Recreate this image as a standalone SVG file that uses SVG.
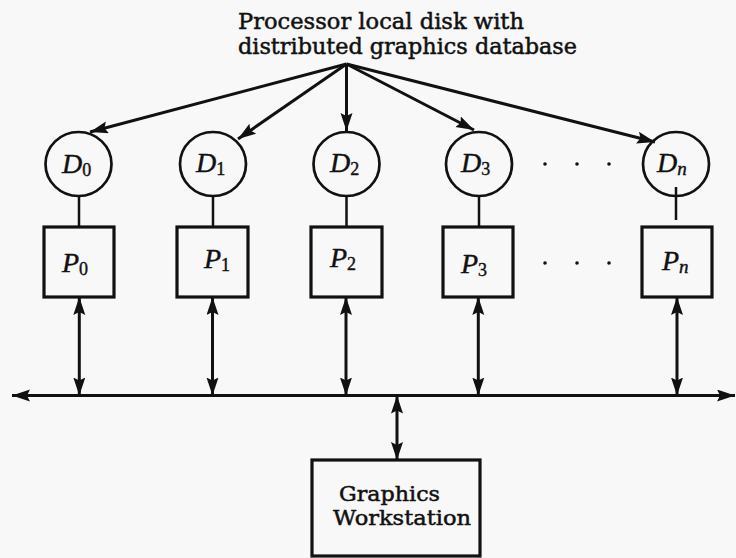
<svg xmlns="http://www.w3.org/2000/svg" width="736" height="558" viewBox="0 0 736 558">
  <style>
    .bg { fill: #f8f8f8; }
    .disk { fill: none; stroke: #111; stroke-width: 2.7; }
    .proc { fill: none; stroke: #111; stroke-width: 3.2; }
    .link { stroke: #111; stroke-width: 2.5; fill: none; }
    .arrow { stroke: #111; stroke-width: 3; fill: none; marker-end: url(#head); }
    .both { stroke: #111; stroke-width: 3; fill: none; marker-start: url(#head); marker-end: url(#head); }
    .title { font-family: "DejaVu Serif", "Liberation Serif", serif; font-size: 22px; fill: #111; stroke: #111; stroke-width: 0.5; }
    .ws { font-family: "DejaVu Serif", "Liberation Serif", serif; font-size: 21px; fill: #111; stroke: #111; stroke-width: 0.5; }
    .lbl { font-family: "Liberation Serif", "DejaVu Serif", serif; font-size: 28px; font-style: italic; fill: #111; stroke: #111; stroke-width: 0.4; }
    .sub { font-size: 18px; font-style: normal; }
    .subn { font-size: 19px; font-style: italic; }
    .dot { fill: #111; }
  </style>
  <defs>
    <marker id="head" markerUnits="userSpaceOnUse" markerWidth="20" markerHeight="14" refX="18" refY="6" orient="auto-start-reverse">
      <path d="M0,0 L18,6 L0,12 L3,6 z" fill="#111"/>
    </marker>
  </defs>

  <rect class="bg" x="0" y="0" width="736" height="558"/>

  <!-- heading above the disks -->
  <g id="caption">
    <text class="title" x="238" y="29" textLength="286" lengthAdjust="spacingAndGlyphs">Processor local disk with</text>
    <text class="title" x="238" y="54" textLength="339" lengthAdjust="spacingAndGlyphs">distributed graphics database</text>
  </g>

  <!-- connectors -->
  <g id="connectors">
    <!-- fan-out from the heading to each disk -->
    <line class="arrow" x1="346.5" y1="64" x2="90" y2="132"/>
    <line class="arrow" x1="346.5" y1="64" x2="238" y2="139"/>
    <line class="arrow" x1="346.5" y1="64" x2="346.5" y2="131"/>
    <line class="arrow" x1="346.5" y1="64" x2="474" y2="130"/>
    <line class="arrow" x1="346.5" y1="64" x2="655" y2="142"/>
    <!-- disk to processor -->
    <line class="link" x1="79" y1="196" x2="79" y2="227"/>
    <line class="link" x1="213" y1="196" x2="213" y2="227"/>
    <line class="link" x1="346.5" y1="196" x2="346.5" y2="227"/>
    <line class="link" x1="479" y1="196" x2="479" y2="227"/>
    <line class="link" x1="676" y1="187" x2="676" y2="220"/>
    <!-- processor to bus -->
    <line class="both" x1="79.3" y1="297" x2="79.3" y2="395.5"/>
    <line class="both" x1="212.5" y1="297" x2="212.5" y2="395.5"/>
    <line class="both" x1="346" y1="297" x2="346" y2="395.5"/>
    <line class="both" x1="478.3" y1="297" x2="478.3" y2="395.5"/>
    <line class="both" x1="677" y1="297" x2="677" y2="395.5"/>
    <!-- bus -->
    <line class="both" x1="12" y1="395.5" x2="735" y2="395.5"/>
    <!-- bus to workstation -->
    <line class="both" x1="397" y1="395.5" x2="397" y2="460"/>
  </g>

  <!-- disks -->
  <g id="D0">
    <ellipse class="disk" cx="78.5" cy="164" rx="33" ry="32"/>
    <text class="lbl" x="62" y="173">D<tspan class="sub" dy="3">0</tspan></text>
  </g>
  <g id="D1">
    <ellipse class="disk" cx="213" cy="164" rx="33" ry="32"/>
    <text class="lbl" x="196" y="172">D<tspan class="sub" dy="3">1</tspan></text>
  </g>
  <g id="D2">
    <ellipse class="disk" cx="346.5" cy="164" rx="33" ry="32"/>
    <text class="lbl" x="330" y="172">D<tspan class="sub" dy="3">2</tspan></text>
  </g>
  <g id="D3">
    <ellipse class="disk" cx="479" cy="164" rx="33" ry="32"/>
    <text class="lbl" x="461" y="172">D<tspan class="sub" dy="3">3</tspan></text>
  </g>
  <g id="Dn">
    <ellipse class="disk" cx="676" cy="164" rx="33" ry="32"/>
    <text class="lbl" x="657" y="172">D<tspan class="subn" dy="3">n</tspan></text>
  </g>

  <!-- processors -->
  <g id="P0">
    <rect class="proc" x="44" y="227" width="70" height="70"/>
    <text class="lbl" x="62" y="272">P<tspan class="sub" dy="3">0</tspan></text>
  </g>
  <g id="P1">
    <rect class="proc" x="177" y="227" width="71" height="70"/>
    <text class="lbl" x="204" y="268">P<tspan class="sub" dy="3">1</tspan></text>
  </g>
  <g id="P2">
    <rect class="proc" x="311" y="227" width="71" height="70"/>
    <text class="lbl" x="330" y="267">P<tspan class="sub" dy="3">2</tspan></text>
  </g>
  <g id="P3">
    <rect class="proc" x="443" y="227" width="70" height="70"/>
    <text class="lbl" x="461" y="273">P<tspan class="sub" dy="3">3</tspan></text>
  </g>
  <g id="Pn">
    <rect class="proc" x="642" y="227" width="70" height="70"/>
    <text class="lbl" x="662" y="270">P<tspan class="subn" dy="3">n</tspan></text>
  </g>

  <!-- ellipsis dots between the third and last columns -->
  <g id="ellipsis">
    <circle class="dot" cx="545" cy="164" r="1.8"/>
    <circle class="dot" cx="577" cy="164" r="1.8"/>
    <circle class="dot" cx="609" cy="164" r="1.8"/>
    <circle class="dot" cx="545" cy="263" r="1.8"/>
    <circle class="dot" cx="577" cy="263" r="1.8"/>
    <circle class="dot" cx="609" cy="263" r="1.8"/>
  </g>

  <!-- workstation -->
  <g id="workstation">
    <rect class="proc" x="312" y="460" width="168" height="96"/>
    <text class="ws" x="339" y="501" textLength="101" lengthAdjust="spacingAndGlyphs">Graphics</text>
    <text class="ws" x="333" y="525" textLength="138" lengthAdjust="spacingAndGlyphs">Workstation</text>
  </g>
</svg>
